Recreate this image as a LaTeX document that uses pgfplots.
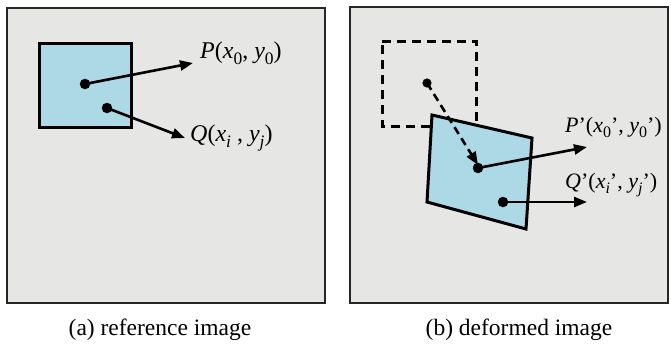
\documentclass[border=0pt]{standalone}
\usepackage{pgfplots}
\pgfplotsset{compat=1.18}
\usepackage{fontspec}
\setmainfont{Liberation Serif}
\usetikzlibrary{arrows.meta}
\definecolor{bg}{RGB}{230,230,228}
\definecolor{cyanfill}{RGB}{173,216,230}
\newcommand{\sub}[1]{\raisebox{-0.25em}{\fontsize{17.5}{20}\selectfont #1}}
\newcommand{\subs}[1]{\raisebox{-0.25em}{\fontsize{16}{19}\selectfont #1}}
\begin{document}
\begin{tikzpicture}
\begin{axis}[at={(0pt,0pt)},anchor=south west,width=671pt,height=346pt,scale only axis,
  xmin=0,xmax=671,ymin=0,ymax=346,y dir=reverse,hide axis,clip=false]
% panels
\addplot[draw=black!85, line width=2.6pt, fill=bg] coordinates {(7,8) (325,8) (325,303) (7,303)} -- cycle;
\addplot[draw=black!85, line width=2.6pt, fill=bg] coordinates {(350,7) (668,7) (668,303) (350,303)} -- cycle;
% panel a square
\addplot[draw=black, line width=3pt, fill=cyanfill] coordinates {(39,43) (131,43) (131,127) (39,127)} -- cycle;
% panel b dashed square
\addplot[draw=black, line width=3pt, dash pattern=on 9pt off 6pt] coordinates {(382,41) (476,41) (476,126) (382,126)} -- cycle;
% panel b deformed quad
\addplot[draw=black, line width=3pt, fill=cyanfill] coordinates {(432,115) (532,138) (526,229) (427,202)} -- cycle;
% arrows
\addplot[black, line width=2.6pt, -{Triangle[length=13pt,width=10pt]}] coordinates {(85,84) (193,63)};
\addplot[black, line width=2.6pt, -{Triangle[length=13pt,width=10pt]}] coordinates {(107,108) (185,138)};
\addplot[black, line width=2.6pt, dash pattern=on 8pt off 5pt, -{Triangle[length=13pt,width=10pt]}] coordinates {(427,83) (478,165)};
\addplot[black, line width=2.6pt, -{Triangle[length=13pt,width=10pt]}] coordinates {(478,168) (587,147)};
\addplot[black, line width=2.6pt, -{Triangle[length=13pt,width=10pt]}] coordinates {(503,202) (587,202)};
% dots
\addplot[only marks, mark=*, mark size=5pt, black] coordinates {(85,84) (107,108) (478,168) (503,202)};
\addplot[only marks, mark=*, mark size=4.3pt, black] coordinates {(427,83)};
% labels
\node[anchor=base west, inner sep=0pt, font=\fontsize{24}{28}\selectfont] at (axis cs:200,58) {\textit{P}(\textit{x}\sub{0}, \textit{y}\sub{0})};
\node[anchor=base west, inner sep=0pt, font=\fontsize{24}{28}\selectfont] at (axis cs:190,141) {\textit{Q}(\textit{x}\sub{\textit{i}} , \textit{y}\sub{\textit{j}})};
\node[anchor=base west, inner sep=0pt, font=\fontsize{22}{26}\selectfont] at (axis cs:565,132) {\textit{P}'(\textit{x}\subs{0}', \textit{y}\subs{0}')};
\node[anchor=base west, inner sep=0pt, font=\fontsize{22}{26}\selectfont] at (axis cs:565,188) {\textit{Q}'(\textit{x}\subs{\textit{i}}', \textit{y}\subs{\textit{j}}')};
% captions
\node[anchor=base, inner sep=0pt, font=\fontsize{23.5}{28}\selectfont] at (axis cs:160,335) {(a) reference image};
\node[anchor=base, inner sep=0pt, font=\fontsize{23.5}{28}\selectfont] at (axis cs:519,335) {(b) deformed image};
\end{axis}
\pgfresetboundingbox
\path[use as bounding box] (0pt,0pt) rectangle (671pt,346pt);
\end{tikzpicture}
\end{document}
